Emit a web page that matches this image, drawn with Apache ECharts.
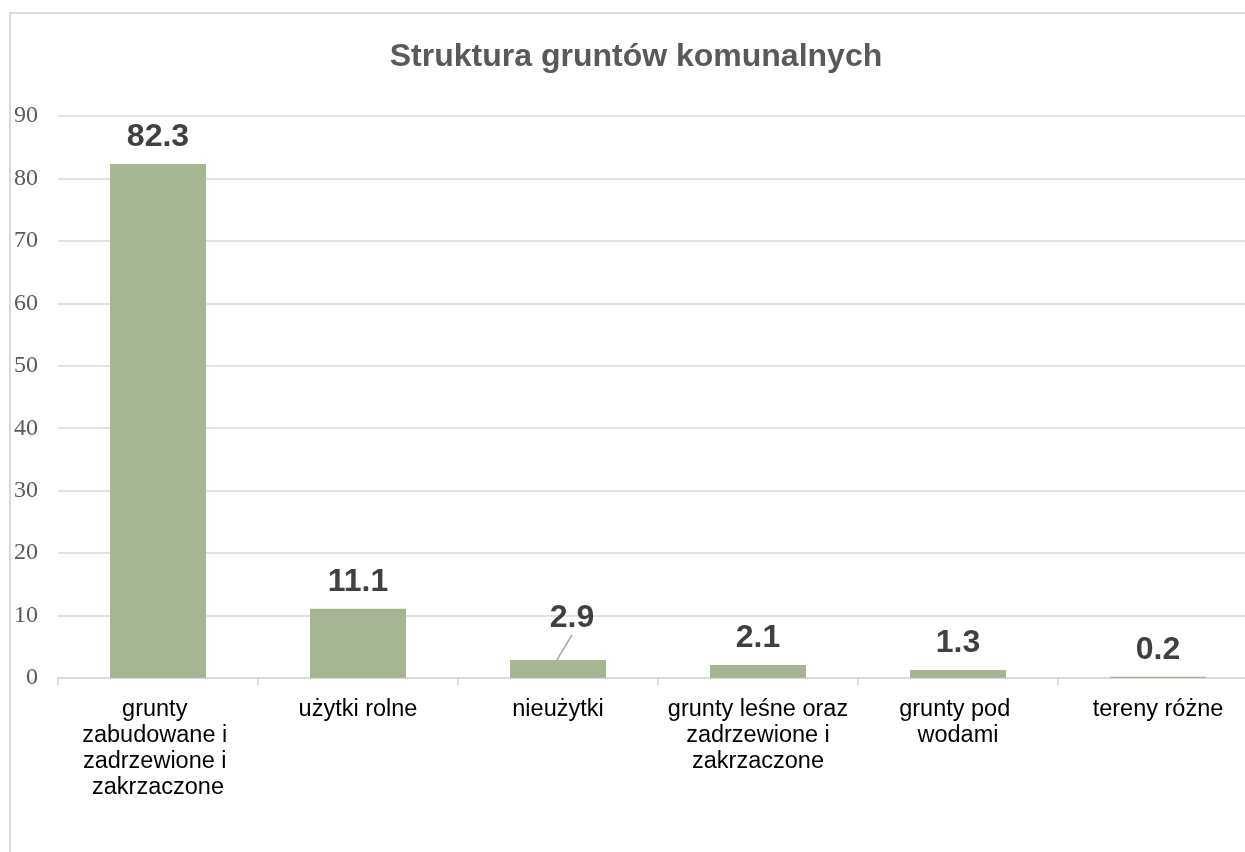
<!DOCTYPE html>
<html>
<head>
<meta charset="utf-8">
<script src="https://cdn.jsdelivr.net/npm/echarts@6/dist/echarts.min.js"></script>
<style>
  html, body { margin: 0; padding: 0; background: #fff; }
  #chart { width: 1245px; height: 852px; }
</style>
</head>
<body>
<div id="chart"></div>
<script>
// dane z wykresu
const categories = [
  'grunty zabudowane i zadrzewione i zakrzaczone',
  'użytki rolne',
  'nieużytki',
  'grunty leśne oraz zadrzewione i zakrzaczone',
  'grunty pod wodami',
  'tereny różne'
]
const values = [82.3, 11.1, 2.9, 2.1, 1.3, 0.2]
const yTicks = { min: 0, max: 90, interval: 10 }

// przesunięcie etykiety 2.9 (z linią odniesienia)
const shiftedIndex = 2
const shift = { dx: 14, dy: -15 }

const chart = echarts.init(document.getElementById('chart'))

chart.setOption({
  animation: false,
  title: {
    text: 'Struktura gruntów komunalnych',
    left: 631,
    top: 36,
    textAlign: 'center',
    textStyle: {
      fontFamily: 'Liberation Sans',
      fontSize: 32,
      fontWeight: 'bold',
      color: '#595959'
    }
  },
  grid: {
    left: 58,
    top: 116,
    width: 1200,
    height: 562,
    containLabel: false,
    outerBoundsMode: 'none'
  },
  xAxis: {
    type: 'category',
    data: categories,
    axisLine: { lineStyle: { color: '#d9d9d9', width: 2 } },
    axisTick: { show: true, length: 7, lineStyle: { color: '#d9d9d9', width: 2 } },
    axisLabel: {
      interval: 0,
      margin: 19,
      width: 197,
      overflow: 'break',
      fontFamily: 'Liberation Sans',
      fontSize: 23.5,
      lineHeight: 26,
      color: '#000'
    }
  },
  yAxis: {
    type: 'value',
    min: yTicks.min,
    max: yTicks.max,
    interval: yTicks.interval,
    axisLine: { show: false },
    axisTick: { show: false },
    splitLine: { lineStyle: { color: '#d9d9d9', width: 1.5 } },
    axisLabel: {
      margin: 20,
      fontFamily: 'Liberation Serif',
      fontSize: 24,
      color: '#595959'
    }
  },
  series: [{
    type: 'bar',
    data: values,
    barWidth: 96,
    itemStyle: { color: '#A6B593' },
    label: {
      show: true,
      position: 'top',
      distance: 11,
      fontFamily: 'Liberation Sans',
      fontSize: 32,
      fontWeight: 'bold',
      color: '#404040'
    },
    labelLayout: function (params) {
      if (params.dataIndex === shiftedIndex) {
        return { dx: shift.dx, dy: shift.dy }
      }
      return {}
    }
  }]
})

// linia odniesienia od słupka do przesuniętej etykiety
const p = chart.convertToPixel({ seriesIndex: 0 }, [shiftedIndex, values[shiftedIndex]])
chart.setOption({
  graphic: [{
    type: 'rect',
    shape: { x: 10, y: 13, width: 1300, height: 900 },
    style: { fill: 'none', stroke: '#d9d9d9', lineWidth: 2 },
    silent: true
  }, {
    type: 'line',
    shape: { x1: p[0] - 1, y1: p[1], x2: p[0] + shift.dx, y2: p[1] - 25 },
    style: { stroke: '#a6a6a6', lineWidth: 1.5 },
    silent: true
  }]
})
</script>
</body>
</html>
